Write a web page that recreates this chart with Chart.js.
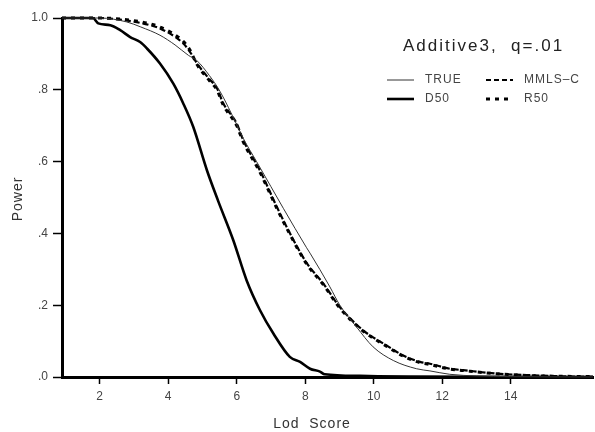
<!DOCTYPE html>
<html>
<head>
<meta charset="utf-8">
<script src="https://cdn.jsdelivr.net/npm/chart.js@4.4.1/dist/chart.umd.min.js"></script>
<style>
  html, body { margin: 0; padding: 0; background: #fff; }
  #wrap { width: 595px; height: 432px; position: relative; }
</style>
</head>
<body>
<div id="wrap"><canvas id="grafico" width="595" height="432"></canvas></div>
<script>
// Valores (Lod score x poder)
const trueX = [0.9, 2.0, 2.79, 3.2, 3.76, 4.2, 4.59, 4.83, 5.2, 5.51, 6.0, 6.19, 6.58, 7.0, 7.36, 8.04, 8.14, 8.72, 9.01, 9.5, 9.98, 10.57, 11.25, 11.64, 12.22, 13.0, 14.0, 16.4];
const trueY = [1.0, 1.0, 0.989, 0.975, 0.952, 0.925, 0.896, 0.882, 0.84, 0.796, 0.703, 0.665, 0.6, 0.53, 0.47, 0.36, 0.345, 0.251, 0.2, 0.139, 0.084, 0.046, 0.023, 0.017, 0.0075, 0.003, 0.001, 0.0];

const d50X = [0.9, 1.8, 1.96, 2.31, 2.6, 2.89, 3.18, 3.38, 3.76, 4.15, 4.44, 4.73, 5.13, 5.46, 5.9, 6.29, 6.68, 7.07, 7.55, 7.85, 8.14, 8.43, 8.57, 9.6, 11.0, 16.4];
const d50Y = [1.0, 1.0, 0.985, 0.98, 0.966, 0.947, 0.933, 0.915, 0.873, 0.817, 0.762, 0.697, 0.576, 0.49, 0.381, 0.269, 0.186, 0.121, 0.056, 0.042, 0.023, 0.015, 0.0075, 0.003, 0.001, 0.0];

const mmlsX = [0.9, 2.0, 2.79, 3.47, 3.76, 4.44, 4.64, 4.83, 5.2, 5.42, 5.61, 6.0, 6.19, 6.68, 7.17, 7.5, 8.04, 8.53, 9.01, 9.69, 10.37, 10.86, 11.35, 11.64, 12.22, 12.61, 13.58, 14.55, 15.5, 16.4];
const mmlsY = [1.0, 1.0, 0.993, 0.98, 0.971, 0.929, 0.905, 0.875, 0.83, 0.805, 0.762, 0.706, 0.66, 0.575, 0.474, 0.41, 0.318, 0.26, 0.195, 0.13, 0.088, 0.06, 0.042, 0.037, 0.023, 0.019, 0.0095, 0.005, 0.002, 0.001];

const r50X = [0.9, 2.0, 2.79, 3.47, 3.76, 4.44, 4.64, 4.83, 5.2, 5.42, 5.61, 6.0, 6.19, 6.68, 7.17, 7.5, 8.04, 8.53, 9.01, 9.69, 10.37, 10.86, 11.35, 11.64, 12.22, 12.61, 13.58, 14.55, 15.5, 16.4];
const r50Y = [1.0, 1.0, 0.995, 0.984, 0.975, 0.935, 0.91, 0.872, 0.826, 0.8, 0.757, 0.7, 0.655, 0.57, 0.47, 0.407, 0.315, 0.257, 0.192, 0.128, 0.086, 0.058, 0.04, 0.035, 0.022, 0.018, 0.009, 0.004, 0.002, 0.001];

const xTicks = [2, 4, 6, 8, 10, 12, 14];
const yTicks = [0, 0.2, 0.4, 0.6, 0.8, 1.0];
const yTickLabels = ['.0', '.2', '.4', '.6', '.8', '1.0'];

function pontos(xs, ys) {
    return xs.map(function(x, i) { return { x: x, y: ys[i] }; });
}

const fonte = '"Liberation Sans", Arial, sans-serif';

// Título, legenda e rótulos dos eixos desenhados à mão
const anotacoes = {
    id: 'anotacoes',
    afterDraw: function(chart) {
        const ctx = chart.ctx;
        ctx.save();
        ctx.fillStyle = '#222';
        ctx.font = '17px ' + fonte;
        ctx.letterSpacing = '2px';
        ctx.textBaseline = 'middle';
        ctx.textAlign = 'left';
        ctx.fillText('Additive3,  q=.01', 403, 46);

        // legenda
        const itens = [
            { x: 387, y: 80, txt: 'TRUE', w: 1, dash: [], cor: '#333' },
            { x: 486, y: 80, txt: 'MMLS\u2013C', w: 2.2, dash: [5, 3], cor: '#000' },
            { x: 387, y: 99, txt: 'D50', w: 2.6, dash: [], cor: '#000' },
            { x: 486, y: 99, txt: 'R50', w: 3.2, dash: [4, 5], cor: '#000' }
        ];
        ctx.font = '12px ' + fonte;
        ctx.letterSpacing = '1px';
        itens.forEach(function(it) {
            ctx.beginPath();
            ctx.setLineDash(it.dash);
            ctx.lineWidth = it.w;
            ctx.strokeStyle = it.cor;
            ctx.moveTo(it.x, it.y);
            ctx.lineTo(it.x + 27, it.y);
            ctx.stroke();
            ctx.setLineDash([]);
            ctx.fillStyle = '#444';
            ctx.fillText(it.txt, it.x + 38, it.y);
        });

        // títulos dos eixos
        ctx.fillStyle = '#333';
        ctx.font = '14px ' + fonte;
        ctx.letterSpacing = '1px';
        ctx.textAlign = 'center';
        ctx.fillText('Lod  Score', 312, 424);
        ctx.translate(18, 199);
        ctx.rotate(-Math.PI / 2);
        ctx.fillText('Power', 0, 0);
        ctx.restore();
    }
};

new Chart(document.getElementById('grafico'), {
    type: 'line',
    data: {
        datasets: [
            {
                label: 'TRUE',
                data: pontos(trueX, trueY),
                borderColor: '#333',
                borderWidth: 1,
                pointRadius: 0,
                cubicInterpolationMode: 'monotone',
                clip: false
            },
            {
                label: 'D50',
                data: pontos(d50X, d50Y),
                borderColor: '#000',
                borderWidth: 2.6,
                pointRadius: 0,
                cubicInterpolationMode: 'monotone',
                clip: false
            },
            {
                label: 'MMLS-C',
                data: pontos(mmlsX, mmlsY),
                borderColor: '#000',
                borderWidth: 2.2,
                borderDash: [6, 3],
                pointRadius: 0,
                cubicInterpolationMode: 'monotone',
                clip: false
            },
            {
                label: 'R50',
                data: pontos(r50X, r50Y),
                borderColor: '#000',
                borderWidth: 3,
                borderDash: [4, 5],
                pointRadius: 0,
                cubicInterpolationMode: 'monotone',
                clip: false
            }
        ]
    },
    options: {
        responsive: false,
        animation: false,
        layout: { padding: { top: 18, right: 2, left: 0, bottom: 0 } },
        plugins: {
            legend: { display: false },
            title: { display: false },
            tooltip: { enabled: false }
        },
        scales: {
            x: {
                type: 'linear',
                min: 0.9,
                max: 16.4,
                afterBuildTicks: function(scale) {
                    scale.ticks = xTicks.map(function(v) { return { value: v }; });
                },
                afterFit: function(scale) { scale.height = 55; },
                grid: {
                    drawOnChartArea: false,
                    drawTicks: true,
                    tickLength: 7,
                    tickColor: '#000',
                    tickWidth: 1.5
                },
                border: { display: true, color: '#000', width: 3 },
                ticks: {
                    color: '#444',
                    font: { family: fonte, size: 12 },
                    padding: 5,
                    maxRotation: 0
                }
            },
            y: {
                min: 0,
                max: 1,
                afterBuildTicks: function(scale) {
                    scale.ticks = yTicks.map(function(v) { return { value: v }; });
                },
                afterFit: function(scale) { scale.width = 62; },
                grid: {
                    drawOnChartArea: false,
                    drawTicks: true,
                    tickLength: 9,
                    tickColor: '#000',
                    tickWidth: 1.5
                },
                border: { display: true, color: '#000', width: 3 },
                ticks: {
                    color: '#444',
                    font: { family: fonte, size: 12 },
                    padding: 5,
                    callback: function(value) {
                        const i = yTicks.indexOf(value);
                        return i >= 0 ? yTickLabels[i] : '';
                    }
                }
            }
        }
    },
    plugins: [anotacoes]
});
</script>
</body>
</html>
